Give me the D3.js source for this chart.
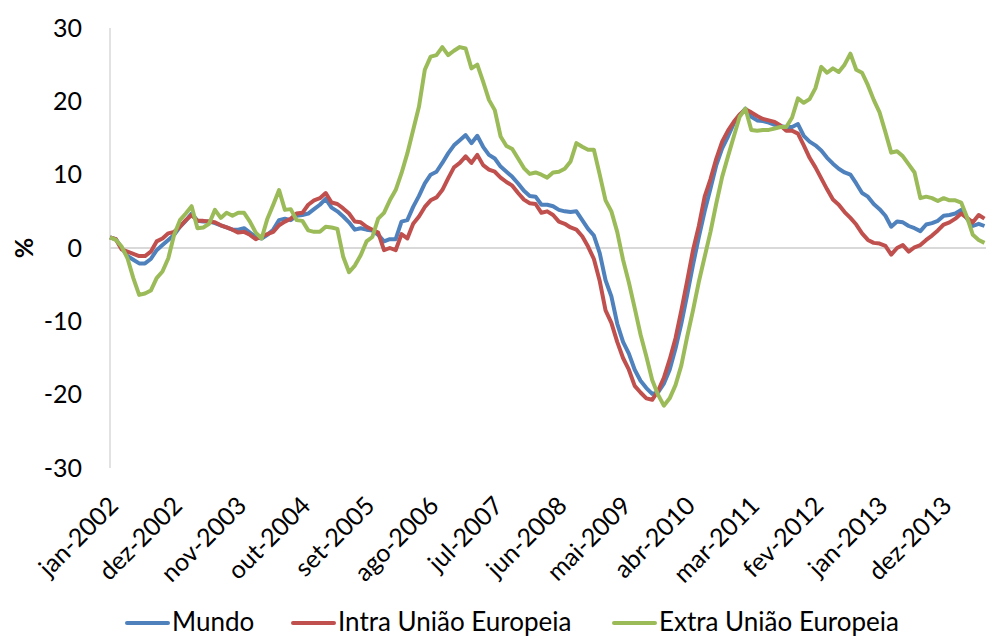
<!DOCTYPE html>
<html>
<head>
<meta charset="utf-8">
<script src="https://cdn.jsdelivr.net/npm/d3@7"></script>
<style>
  body { margin: 0; background: #fff; }
  svg text { font-family: Lato, "Open Sans", sans-serif; fill: #000; }
</style>
</head>
<body>
<svg width="986" height="637"></svg>
<script>
// monthly categories jan-2002 .. jul-2014
var monthNames = ["jan","fev","mar","abr","mai","jun","jul","ago","set","out","nov","dez"];
var firstYear = 2002, nMonths = 151;
var categories = [];
for (var k = 0; k < nMonths; k++) {
    categories.push(monthNames[k % 12] + "-" + (firstYear + Math.floor(k / 12)));
}
var tickLabels = ["jan-2002","dez-2002","nov-2003","out-2004","set-2005","ago-2006","jul-2007",
                  "jun-2008","mai-2009","abr-2010","mar-2011","fev-2012","jan-2013","dez-2013"];
var yTicks = [-30,-20,-10,0,10,20,30];

var seriesNames = ["Mundo", "Intra União Europeia", "Extra União Europeia"];
var seriesColors = ["#4F81BD", "#C0504D", "#9BBB59"];

var mundo = [
 1.45,1.2,0.0,-1.1,-1.6,-2.1,-2.1,-1.5,-0.3,0.4,1.1,1.8,
 2.9,3.7,4.7,3.7,3.6,3.6,3.4,3.1,2.8,2.5,2.5,2.7,
 2.1,1.5,1.3,1.8,2.5,3.8,4.0,3.8,4.4,4.5,4.7,5.3,
 5.9,6.7,5.5,5.0,4.3,3.5,2.5,2.7,2.5,2.4,1.8,0.9,
 1.2,1.2,3.6,3.8,5.6,7.1,8.8,10.0,10.4,11.6,12.9,14.0,
 14.7,15.4,14.3,15.3,13.8,12.7,12.2,11.1,10.4,9.7,8.8,7.8,
 7.1,7.0,5.9,5.9,5.7,5.2,5.0,4.9,5.0,3.8,2.6,1.7,
 -0.7,-4.4,-6.6,-10.3,-12.8,-14.4,-16.6,-18.1,-19.1,-19.9,-19.7,-18.5,
 -16.6,-13.7,-10.3,-6.4,-2.3,1.5,5.0,8.1,11.3,13.6,15.2,17.0,
 18.1,19.0,17.9,17.4,17.3,17.1,16.8,16.6,16.5,16.5,16.9,15.3,
 14.5,14.0,13.3,12.3,11.5,10.8,10.3,10.0,8.8,7.5,7.0,6.0,
 5.3,4.4,2.9,3.6,3.5,3.0,2.7,2.3,3.2,3.4,3.7,4.4,
 4.5,4.7,5.2,4.0,3.0,3.3,3.0
];
var intraUE = [
 1.45,1.2,-0.2,-0.5,-0.8,-1.1,-1.1,-0.5,0.9,1.3,2.0,2.2,
 2.9,3.8,4.5,3.7,3.7,3.6,3.5,3.1,2.8,2.5,2.1,2.2,
 1.8,1.2,1.6,1.9,2.2,3.1,3.6,4.0,4.7,4.8,5.9,6.5,
 6.8,7.5,6.2,6.0,5.4,4.7,3.6,3.5,2.9,2.5,2.1,-0.3,
 0.0,-0.3,1.9,1.3,3.3,4.3,5.6,6.5,6.9,7.9,9.5,11.0,
 11.6,12.5,11.6,12.7,11.3,10.7,10.4,9.6,9.0,8.5,7.5,6.6,
 6.1,6.0,4.8,5.0,4.5,3.6,3.3,2.8,2.5,1.6,0.2,-1.5,
 -4.5,-8.5,-10.2,-12.8,-15.0,-16.6,-18.8,-19.7,-20.5,-20.7,-19.5,-17.7,
 -15.2,-12.3,-8.5,-4.5,-0.3,3.0,7.0,9.4,12.2,14.5,16.0,17.2,
 18.2,18.9,18.5,18.0,17.6,17.4,17.2,16.7,16.0,16.0,15.6,14.0,
 12.3,11.0,9.5,8.0,6.6,5.9,4.9,4.1,3.2,2.0,1.1,0.7,
 0.6,0.3,-0.9,0.0,0.4,-0.5,0.1,0.4,1.1,1.7,2.4,3.2,
 3.5,4.0,4.7,4.1,3.5,4.5,4.0
];
var extraUE = [
 1.45,1.1,0.2,-1.4,-4.1,-6.4,-6.2,-5.8,-4.1,-3.2,-1.4,1.8,
 3.8,4.7,5.7,2.7,2.8,3.3,5.2,4.1,4.8,4.4,4.8,4.8,
 3.6,2.1,1.3,4.0,5.9,7.9,5.2,5.3,3.8,3.7,2.4,2.2,
 2.2,2.9,2.8,2.6,-1.2,-3.3,-2.4,-1.0,0.9,1.5,4.0,4.8,
 6.5,7.9,10.2,12.9,16.1,19.3,24.3,26.1,26.3,27.4,26.3,26.9,
 27.4,27.2,24.5,25.0,22.7,20.2,18.8,15.2,13.9,13.5,12.2,10.9,
 10.1,10.3,10.0,9.6,10.3,10.4,10.8,11.8,14.3,13.8,13.4,13.4,
 10.0,6.5,5.0,2.2,-1.6,-4.7,-8.2,-11.8,-14.8,-18.0,-20.0,-21.5,
 -20.5,-18.7,-16.0,-12.1,-8.5,-4.6,-1.2,2.2,6.1,9.7,12.5,15.2,
 17.9,19.0,16.1,16.0,16.1,16.1,16.3,16.5,16.5,17.8,20.4,19.8,
 20.3,21.8,24.7,23.9,24.5,24.0,25.0,26.5,24.3,23.9,22.2,20.2,
 18.5,15.8,13.0,13.2,12.5,11.4,10.3,6.8,7.0,6.8,6.4,6.8,
 6.5,6.5,6.2,4.2,1.8,1.1,0.7
];
var seriesValues = [mundo, intraUE, extraUE];

var svg = d3.select("svg");
var plotLeft = 110, plotRight = 984.5, plotTop = 28, plotBottom = 468;

var x = d3.scalePoint()
    .domain(categories)
    .range([plotLeft, plotRight]);

var y = d3.scaleLinear()
    .domain([-30, 30])
    .range([plotBottom, plotTop]);

// y axis line
svg.append("line")
    .attr("x1", plotLeft).attr("x2", plotLeft)
    .attr("y1", plotTop).attr("y2", plotBottom)
    .attr("stroke", "#d9d9d9").attr("stroke-width", 1.5);

// zero line
svg.append("line")
    .attr("x1", plotLeft).attr("x2", 986)
    .attr("y1", y(0)).attr("y2", y(0))
    .attr("stroke", "#d9d9d9").attr("stroke-width", 2);

// y tick labels (plain hyphen for negatives, like the original)
var yAxis = svg.append("g")
    .attr("transform", "translate(" + (plotLeft - 10) + ",0)")
    .call(d3.axisLeft(y).tickValues(yTicks).tickSize(0).tickPadding(18)
        .tickFormat(function(d) { return String(d); }));
yAxis.select(".domain").remove();
yAxis.selectAll("text")
    .style("font-family", "Lato, 'Open Sans', sans-serif")
    .style("font-size", "25px");

svg.append("text")
    .attr("transform", "translate(24," + y(0) + ") rotate(-90)")
    .attr("text-anchor", "middle")
    .attr("dy", "0.35em")
    .style("font-size", "25px")
    .style("font-weight", "bold")
    .text("%");

// x tick labels
var xAxis = svg.append("g")
    .attr("transform", "translate(0," + plotBottom + ")")
    .call(d3.axisBottom(x).tickValues(tickLabels).tickSize(0));
xAxis.select(".domain").remove();
xAxis.selectAll("text")
    .attr("y", 0).attr("dy", "0.35em")
    .attr("text-anchor", "end")
    .attr("transform", "translate(3,33) rotate(-45)")
    .style("font-family", "Lato, 'Open Sans', sans-serif")
    .style("font-size", "25px");

// series lines
var line = d3.line()
    .x(function(d, i) { return x(categories[i]); })
    .y(function(d) { return y(d); });

svg.selectAll(".series")
    .data(seriesValues)
    .enter()
    .append("path")
    .attr("class", "series")
    .attr("fill", "none")
    .attr("stroke", function(d, i) { return seriesColors[i]; })
    .attr("stroke-width", 4)
    .attr("stroke-linejoin", "round")
    .attr("d", line);

// legend
var legendX = [127, 293, 614];
var legend = svg.selectAll(".legend")
    .data(seriesNames)
    .enter()
    .append("g")
    .attr("class", "legend")
    .attr("transform", function(d, i) { return "translate(" + legendX[i] + ",623)"; });

legend.append("line")
    .attr("x1", 0).attr("x2", 41)
    .attr("stroke", function(d, i) { return seriesColors[i]; })
    .attr("stroke-width", 4)
    .attr("stroke-linecap", "round");

legend.append("text")
    .attr("x", 45)
    .attr("y", 8)
    .style("font-size", "26px")
    .text(function(d) { return d; });
</script>
</body>
</html>
